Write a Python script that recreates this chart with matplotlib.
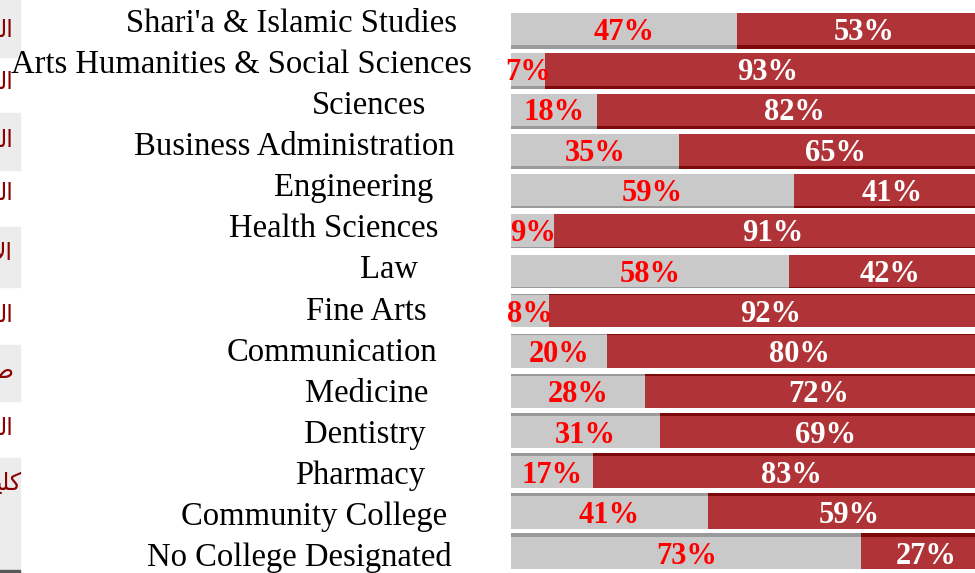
import numpy as np
import matplotlib.pyplot as plt

# Dados
colleges = [
    "Shari'a & Islamic Studies",
    "Arts Humanities & Social Sciences",
    "Sciences",
    "Business Administration",
    "Engineering",
    "Health Sciences",
    "Law",
    "Fine Arts",
    "Communication",
    "Medicine",
    "Dentistry",
    "Pharmacy",
    "Community College",
    "No College Designated",
]
grey_pct = [47, 7, 18, 35, 59, 9, 58, 8, 20, 28, 31, 17, 41, 73]
red_pct = [53, 93, 82, 65, 41, 91, 42, 92, 80, 72, 69, 83, 59, 27]

# fragmentos do painel arabe cortado a esquerda (ordem visual)
arabic_frag = ["\ufedf\u0627", "\ufedf\u0627", "\ufedf\u0627", "\ufedf\u0627", "\ufef9\u0627",
               "\ufedf\u0627", "\ufec3", "\ufedf\u0627", "\ufef4\ufee0\ufedb"]

# Layout (pixels)
W, H = 975, 573
label_right = [457, 472, 426, 455, 433, 438, 418, 427, 437, 428, 426, 425, 447, 452]
arabic_y = [30, 82, 140, 193, 253, 315, 371, 428, 483]
arabic_right = [13, 13, 13, 13, 13, 13, 13, 13, 21]
grey_boxes = [(0, 57), (113, 170), (227, 287), (345, 401), (458, 570)]

c_grey, c_grey_dk = '#c9c9c9', '#9a9a9a'
c_red, c_red_dk = '#b03437', '#7d0a0a'

fig = plt.figure(figsize=(W / 100, H / 100), dpi=100)
ax = fig.add_axes([511 / W, 0, 480 / W, 564 / H])

n = len(colleges)
y = np.arange(n)
grey = np.array(grey_pct)
red = np.array(red_pct)

# sombra 3D: em cima das barras de baixo, embaixo das de cima
for i in range(n):
    t = (0.8 + 3.2 * abs(i - 6.5) / 6.5) / 40.3
    yc = y[i] + 0.4 + t / 2 if i < 7 else y[i] - 0.4 - t / 2
    ax.barh(yc, grey[i], height=t, color=c_grey_dk, linewidth=0)
    ax.barh(yc, red[i], left=grey[i], height=t, color=c_red_dk, linewidth=0)

ax.barh(y, grey, height=0.8, color=c_grey, linewidth=0)
ax.barh(y, red, left=grey, height=0.8, color=c_red, linewidth=0)

for i in range(n):
    ax.text(grey[i] / 2, y[i] + 0.08, f"{grey[i]}%", ha='center', va='center',
            color='#ff0000', fontsize=22, fontweight='bold', family='Liberation Serif')
    ax.text(grey[i] + red[i] / 2, y[i] + 0.08, f"{red[i]}%", ha='center', va='center',
            color='white', fontsize=22, fontweight='bold', family='Liberation Serif')

ax.set_xlim(0, 100)
ax.set_ylim(n - 0.5, -0.5)
ax.axis('off')

# Rotulos das faculdades
for i, name in enumerate(colleges):
    fig.text(label_right[i] / W, 1 - (32 + 41.08 * i) / H, name, ha='right', va='baseline',
             fontsize=23.5, family='Liberation Serif', color='black')

# painel da esquerda
for top, bottom in grey_boxes:
    fig.patches.append(plt.Rectangle((0, 1 - bottom / H), 20 / W, (bottom - top) / H,
                                     transform=fig.transFigure, color='#ececec', zorder=0))
fig.patches.append(plt.Rectangle((0, 0), 20 / W, 3 / H, transform=fig.transFigure,
                                 color='#595959', zorder=0))
for frag, yy, xr in zip(arabic_frag, arabic_y, arabic_right):
    fig.text(xr / W, 1 - yy / H, frag, ha='right', va='center', fontsize=17,
             family='DejaVu Sans', color='#8b0000')

fig.savefig('out.png', dpi=100)
